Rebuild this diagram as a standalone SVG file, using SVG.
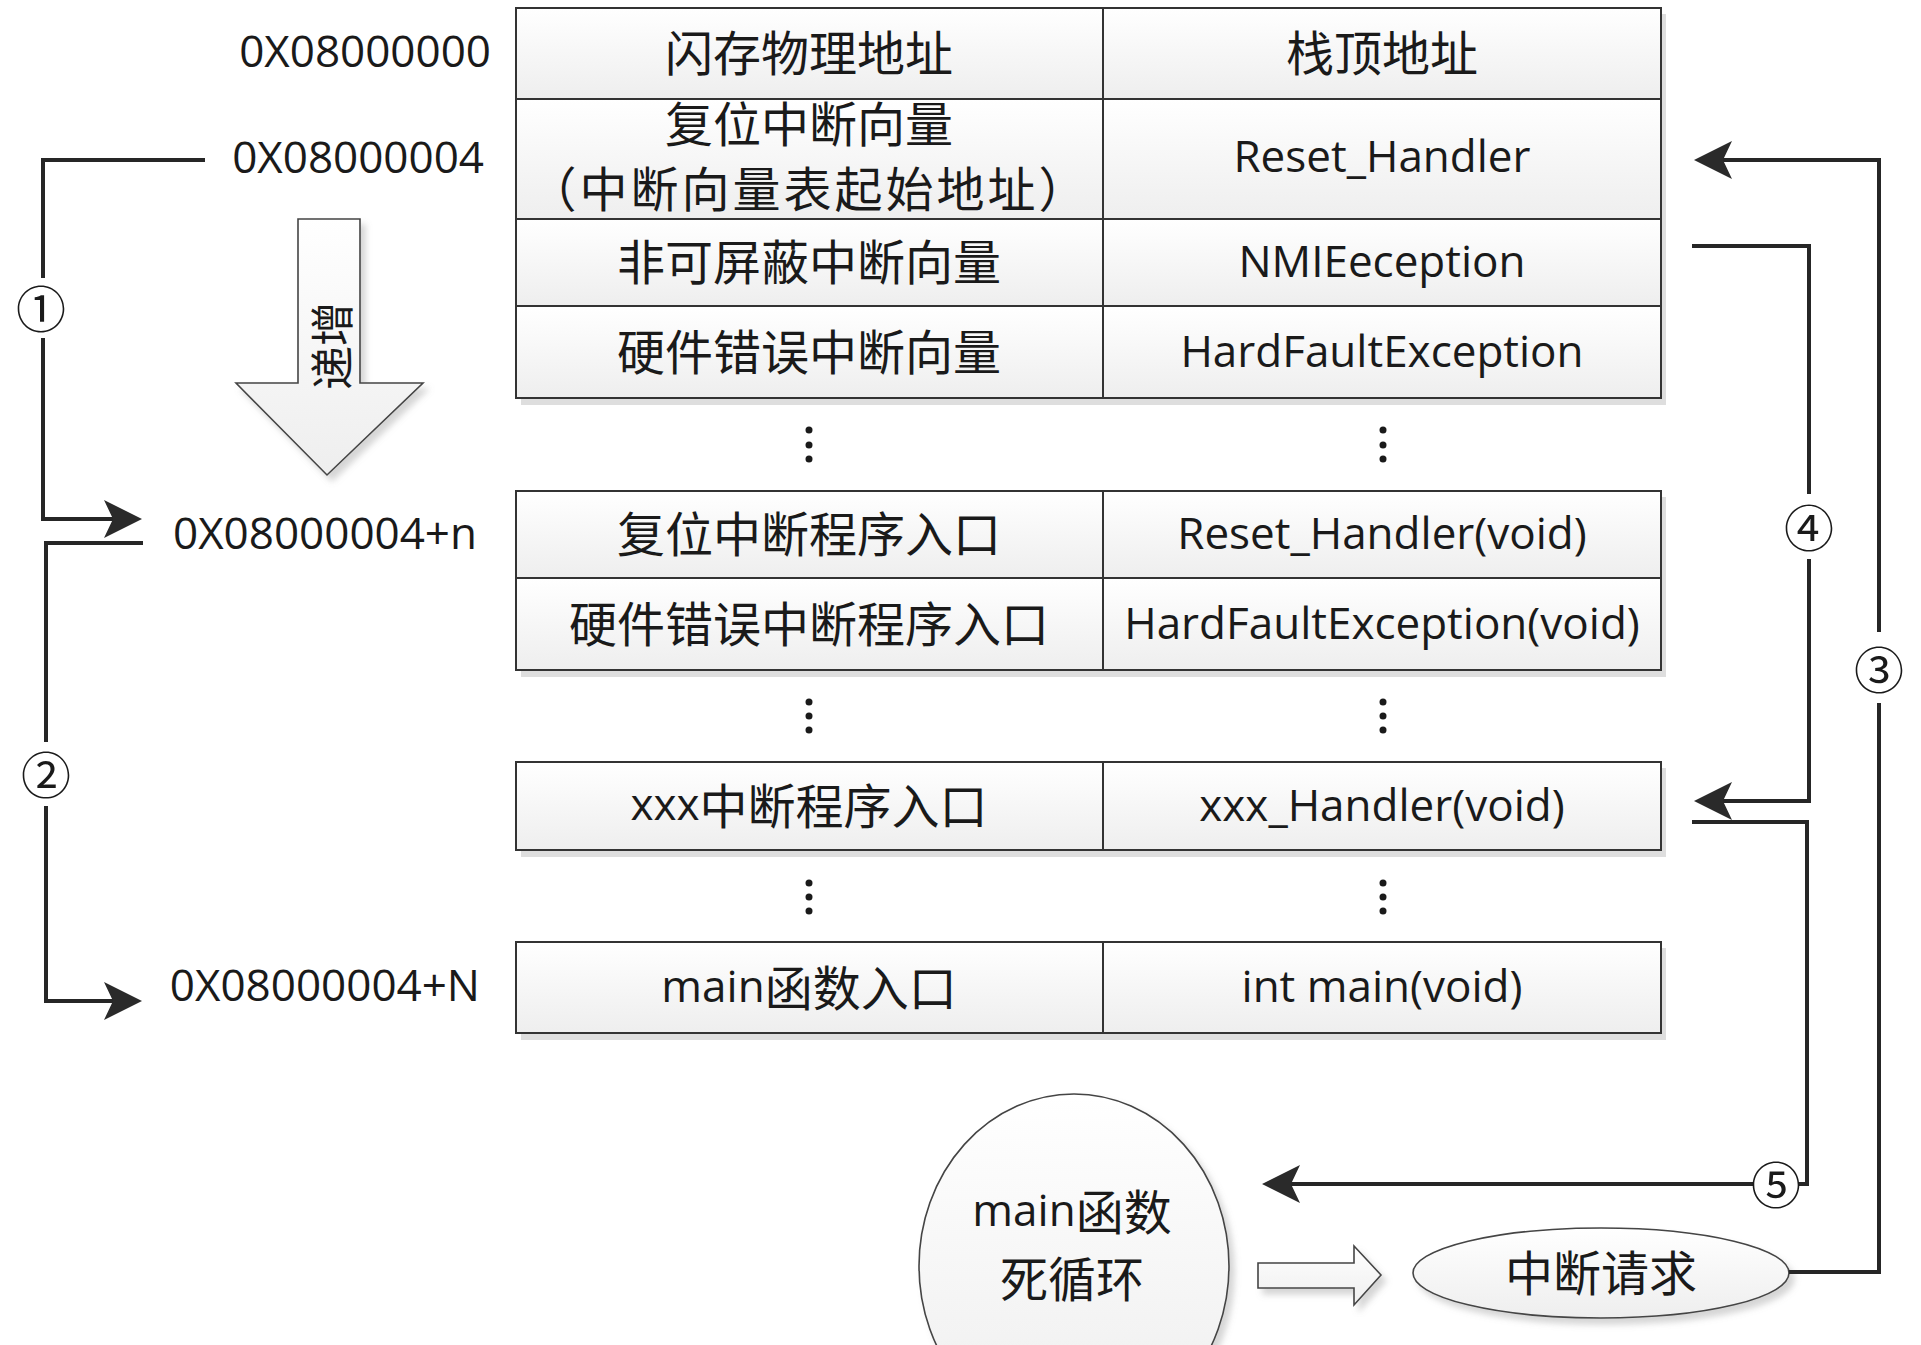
<svg xmlns="http://www.w3.org/2000/svg" width="1921" height="1345" viewBox="0 0 1921 1345">
<style>
text{fill:#1a1a1a;dominant-baseline:central;text-anchor:middle}
.cn{font-family:"Noto Sans CJK SC","Noto Sans",sans-serif;font-size:48px}
.en{font-family:"Open Sans","Liberation Sans",sans-serif;font-size:44px}
.addr{font-family:"Open Sans","Liberation Sans",sans-serif;font-size:44px;text-anchor:end}
.num{font-family:"Noto Sans CJK SC","DejaVu Sans",sans-serif;font-size:50px}
.cell{fill:url(#cellg);stroke:#333;stroke-width:2}
.div{stroke:#333;stroke-width:2}
.shadow{fill:#dedede}
.dot{fill:#1a1a1a}
.conn{fill:none;stroke:#262626;stroke-width:4}
.arr{stroke:#262626;stroke-width:4;fill:none;marker-end:url(#ah)}
.hollow{fill:url(#cellg);stroke:#444;stroke-width:1.6}
</style>
<defs>
<linearGradient id="cellg" x1="0" y1="0" x2="0" y2="1">
<stop offset="0" stop-color="#ffffff"/>
<stop offset="1" stop-color="#eeeeee"/>
</linearGradient>
<filter id="ds" x="-10%" y="-10%" width="130%" height="130%">
<feDropShadow dx="5" dy="6" stdDeviation="3" flood-color="#888" flood-opacity="0.35"/>
</filter>
<marker id="ah" viewBox="0 0 38 38" refX="10" refY="19" markerWidth="38" markerHeight="38" markerUnits="userSpaceOnUse" orient="auto">
<path d="M0,0 L38,19 L0,38 L9,19 Z" fill="#2a2a2a"/>
</marker>
</defs>
<rect width="1921" height="1345" fill="#ffffff"/>

<g id="table-shadows">
<rect class="shadow" x="521" y="14" width="1145" height="391"/>
<rect class="shadow" x="521" y="497" width="1145" height="180"/>
<rect class="shadow" x="521" y="768" width="1145" height="89"/>
<rect class="shadow" x="521" y="948" width="1145" height="92"/>
</g>

<g id="row-header">
<rect class="cell" x="516" y="8" width="1145" height="91"/>
<line class="div" x1="1103" y1="8" x2="1103" y2="99"/>
<text class="cn" x="809" y="50">闪存物理地址</text>
<text class="cn" x="1382" y="50">栈顶地址</text>
</g>
<g id="row-reset-vector">
<rect class="cell" x="516" y="99" width="1145" height="120"/>
<line class="div" x1="1103" y1="99" x2="1103" y2="219"/>
<text class="cn" x="809" y="121">复位中断向量</text>
<text class="cn" x="809" y="186" style="letter-spacing:3px">（中断向量表起始地址）</text>
<text class="en" x="1382" y="155">Reset_Handler</text>
</g>
<g id="row-nmi">
<rect class="cell" x="516" y="219" width="1145" height="87"/>
<line class="div" x1="1103" y1="219" x2="1103" y2="306"/>
<text class="cn" x="809" y="259">非可屏蔽中断向量</text>
<text class="en" x="1382" y="260">NMIEeception</text>
</g>
<g id="row-hardfault">
<rect class="cell" x="516" y="306" width="1145" height="92"/>
<line class="div" x1="1103" y1="306" x2="1103" y2="398"/>
<text class="cn" x="809" y="349">硬件错误中断向量</text>
<text class="en" x="1382" y="350">HardFaultException</text>
</g>
<g id="dots-1">
<circle class="dot" cx="809" cy="430" r="3.5"/><circle class="dot" cx="809" cy="445" r="3.5"/><circle class="dot" cx="809" cy="459" r="3.5"/>
<circle class="dot" cx="1383" cy="430" r="3.5"/><circle class="dot" cx="1383" cy="445" r="3.5"/><circle class="dot" cx="1383" cy="459" r="3.5"/>
</g>
<g id="row-reset-entry">
<rect class="cell" x="516" y="491" width="1145" height="87"/>
<line class="div" x1="1103" y1="491" x2="1103" y2="578"/>
<text class="cn" x="809" y="531">复位中断程序入口</text>
<text class="en" x="1382" y="532">Reset_Handler(void)</text>
</g>
<g id="row-hardfault-entry">
<rect class="cell" x="516" y="578" width="1145" height="92"/>
<line class="div" x1="1103" y1="578" x2="1103" y2="670"/>
<text class="cn" x="809" y="621">硬件错误中断程序入口</text>
<text class="en" x="1382" y="622">HardFaultException(void)</text>
</g>
<g id="dots-2">
<circle class="dot" cx="809" cy="702" r="3.5"/><circle class="dot" cx="809" cy="716" r="3.5"/><circle class="dot" cx="809" cy="730" r="3.5"/>
<circle class="dot" cx="1383" cy="702" r="3.5"/><circle class="dot" cx="1383" cy="716" r="3.5"/><circle class="dot" cx="1383" cy="730" r="3.5"/>
</g>
<g id="row-xxx-entry">
<rect class="cell" x="516" y="762" width="1145" height="88"/>
<line class="div" x1="1103" y1="762" x2="1103" y2="850"/>
<text class="cn" x="809" y="803"><tspan class="en">xxx</tspan>中断程序入口</text>
<text class="en" x="1382" y="804">xxx_Handler(void)</text>
</g>
<g id="dots-3">
<circle class="dot" cx="809" cy="883" r="3.5"/><circle class="dot" cx="809" cy="897" r="3.5"/><circle class="dot" cx="809" cy="911" r="3.5"/>
<circle class="dot" cx="1383" cy="883" r="3.5"/><circle class="dot" cx="1383" cy="897" r="3.5"/><circle class="dot" cx="1383" cy="911" r="3.5"/>
</g>
<g id="row-main-entry">
<rect class="cell" x="516" y="942" width="1145" height="91"/>
<line class="div" x1="1103" y1="942" x2="1103" y2="1033"/>
<text class="cn" x="809" y="985"><tspan class="en">main</tspan>函数入口</text>
<text class="en" x="1382" y="985">int main(void)</text>
</g>

<g id="addresses">
<text class="addr" x="491" y="50">0X08000000</text>
<text class="addr" x="484" y="156">0X08000004</text>
<text class="addr" x="477" y="532">0X08000004+n</text>
<text class="addr" x="480" y="984">0X08000004+N</text>
</g>

<g id="increase-arrow">
<path class="hollow" filter="url(#ds)" d="M298,219 H360 V383 H423 L327,475 L236,383 H298 Z"/>
<text class="cn" style="font-size:44px" transform="translate(330,346) rotate(-90)">递增</text>
</g>

<g id="main-loop">
<ellipse class="hollow" filter="url(#ds)" cx="1074" cy="1266" rx="155" ry="172"/>
<text class="cn" x="1072" y="1209"><tspan class="en">main</tspan>函数</text>
<text class="cn" x="1072" y="1276">死循环</text>
</g>
<g id="flow-arrow">
<path class="hollow" filter="url(#ds)" d="M1258,1263 H1354 V1246 L1381,1275 L1354,1305 V1288 H1258 Z"/>
</g>
<g id="irq-request">
<ellipse class="hollow" filter="url(#ds)" cx="1601" cy="1273" rx="188" ry="45"/>
<text class="cn" x="1601" y="1270">中断请求</text>
</g>

<g id="connectors">
<path class="conn" d="M205,160 H43 V278"/>
<path class="arr" d="M43,338 V519 H114"/>
<text class="num" x="41" y="306">①</text>

<path class="conn" d="M143,543 H46 V742"/>
<path class="arr" d="M46,806 V1001 H114"/>
<text class="num" x="46" y="772">②</text>

<path class="conn" d="M1789,1272 H1879 V703"/>
<path class="arr" d="M1879,632 V160 H1722"/>
<text class="num" x="1879" y="667">③</text>

<path class="conn" d="M1692,246 H1809 V494"/>
<path class="arr" d="M1809,559 V801 H1722"/>
<text class="num" x="1809" y="525">④</text>

<path class="conn" d="M1692,822 H1807 V1184 H1798"/>
<path class="arr" d="M1753,1184 H1290"/>
<text class="num" x="1776" y="1182">⑤</text>
</g>
</svg>
